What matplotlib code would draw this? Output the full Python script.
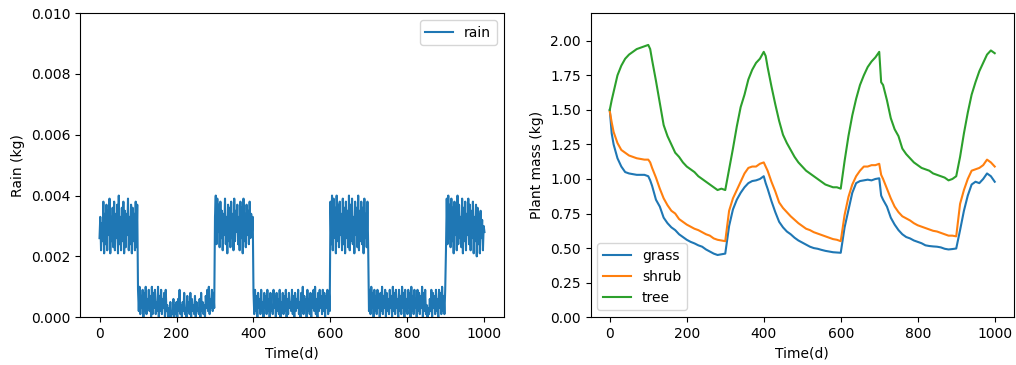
import matplotlib.pyplot as plt
import numpy as np

# rain, one value every 2 days, in units of 1e-4 kg
rain_text = """
26 33 22 31 25 38 21 34 24 37 22 35 27 39 21 33 25 36 23 38
22 34 26 37 21 40 24 33 22 36 25 38 21 35 23 34 27 39 22 33
24 37 21 36 25 34 22 38 23 37
9 2 10 1 7 3 9 0 8 2 10 1 6 3 9 2 7 0 10 1
8 3 9 1 5 2 10 0 7 2 9 1 6 3 8 0 9 2 4 0
3 0 5 0 2 1 6 0 4 1 5 0 6 2 9 1 4 0 5 2
8 1 3 0 7 2 5 1 8 0 6 2 4 1 7 0 5 2 3 1
6 0 8 2 5 1 4 0 7 3 9 2 10 1 6 3 9 2 8 3
33 40 24 39 28 37 23 38 26 35 22 34 27 39 24 33 21 37 25 36
23 38 26 34 22 39 25 35 28 37 24 33 22 38 26 36 21 39 25 34
23 37 27 35 24 38 26 34 28 33
8 1 9 2 7 0 8 3 6 1 9 2 5 0 8 3 7 1 9 2
6 0 8 2 4 1 9 3 7 0 8 2 6 1 9 0 5 3 8 1
7 2 9 0 6 1 8 3 5 2 9 1 7 0 8 2 6 3 9 1
5 0 8 2 10 1 7 3 6 0 9 2 6 1 8 0 7 3 9 2
10 1 6 0 8 2 9 3 7 1 9 2 8 0 7 3 9 1 8 2
38 24 40 22 39 26 36 21 40 25 37 23 38 27 34 22 39 24 36 21
38 26 35 23 40 22 37 25 39 24 33 21 38 27 36 23 40 22 35 25
38 24 36 21 39 26 34 23 38 22
2 9 1 10 3 8 0 9 2 7 1 9 3 6 0 8 2 10 1 7
3 9 0 8 2 6 1 9 3 7 0 10 2 8 1 9 3 6 0 9
2 7 1 10 3 8 0 9 2 6 1 9 3 8 0 10 2 7 1 9
3 6 0 9 2 8 1 7 3 10 0 8 2 9 1 4 0 3 1 6
2 9 0 8 3 7 1 9 2 6 0 9 3 8 1 10 2 7 1 9
22 39 24 40 26 37 23 39 25 36 21 38 27 35 22 40 24 37 26 33
23 39 21 36 25 38 22 34 27 39 24 37 22 35 26 38 21 33 25 37
20 36 24 34 21 35 26 32 22 30 28
"""
rain = np.array(rain_text.split(), dtype=float) * 1e-4
rain_days = np.arange(len(rain)) * 2

# plant mass
days = [0, 5, 10, 20, 30, 40, 50, 60, 70, 80, 90, 100, 105,
        110, 120, 130, 140, 150, 160, 170, 180, 190, 200,
        210, 220, 230, 240, 250, 260, 270, 280, 290, 300,
        310, 320, 330, 340, 350, 360, 370, 380, 390, 400, 405,
        410, 420, 430, 440, 450, 460, 470, 480, 490, 500,
        510, 520, 530, 540, 550, 560, 570, 580, 590, 600,
        610, 620, 630, 640, 650, 660, 670, 680, 690, 700, 705,
        710, 720, 730, 740, 750, 760, 770, 780, 790, 800,
        810, 820, 830, 840, 850, 860, 870, 880, 890, 900,
        910, 920, 930, 940, 950, 960, 970, 980, 990, 1000]

grass = [1.50, 1.33, 1.25, 1.15, 1.09, 1.05, 1.04, 1.035, 1.03, 1.03, 1.03, 1.02, 0.99,
         0.95, 0.85, 0.80, 0.72, 0.68, 0.65, 0.63, 0.60, 0.58, 0.56,
         0.545, 0.534, 0.52, 0.51, 0.49, 0.475, 0.46, 0.45, 0.455, 0.46,
         0.66, 0.78, 0.85, 0.90, 0.94, 0.97, 0.985, 0.99, 1.00, 1.02, 0.97,
         0.93, 0.84, 0.76, 0.69, 0.65, 0.62, 0.60, 0.575, 0.555, 0.54,
         0.525, 0.51, 0.50, 0.495, 0.487, 0.48, 0.475, 0.47, 0.468, 0.466,
         0.65, 0.775, 0.90, 0.97, 0.985, 0.99, 0.995, 0.99, 1.00, 1.005, 0.88,
         0.85, 0.80, 0.72, 0.67, 0.63, 0.60, 0.58, 0.57, 0.555, 0.545,
         0.535, 0.52, 0.515, 0.512, 0.51, 0.505, 0.495, 0.49, 0.493, 0.497,
         0.63, 0.77, 0.88, 0.96, 0.98, 0.97, 1.00, 1.04, 1.02, 0.98]

shrub = [1.49, 1.41, 1.34, 1.26, 1.21, 1.19, 1.17, 1.16, 1.15, 1.145, 1.14, 1.14, 1.12,
         1.08, 1.01, 0.93, 0.86, 0.81, 0.77, 0.75, 0.71, 0.69, 0.67,
         0.655, 0.64, 0.63, 0.615, 0.60, 0.59, 0.57, 0.56, 0.555, 0.55,
         0.77, 0.86, 0.92, 0.98, 1.04, 1.08, 1.09, 1.09, 1.11, 1.12, 1.09,
         1.06, 0.98, 0.91, 0.83, 0.79, 0.76, 0.73, 0.705, 0.68, 0.66,
         0.64, 0.63, 0.615, 0.605, 0.595, 0.585, 0.575, 0.565, 0.56, 0.55,
         0.74, 0.87, 0.96, 1.02, 1.06, 1.09, 1.09, 1.10, 1.10, 1.11, 1.03,
         1.00, 0.93, 0.86, 0.80, 0.76, 0.73, 0.715, 0.70, 0.68, 0.665,
         0.655, 0.645, 0.635, 0.625, 0.62, 0.61, 0.60, 0.59, 0.59, 0.585,
         0.82, 0.92, 1.00, 1.06, 1.07, 1.08, 1.10, 1.14, 1.12, 1.09]

tree = [1.50, 1.57, 1.63, 1.75, 1.82, 1.87, 1.90, 1.92, 1.94, 1.95, 1.96, 1.97, 1.94,
        1.86, 1.71, 1.55, 1.39, 1.31, 1.25, 1.19, 1.16, 1.12, 1.09,
        1.07, 1.05, 1.02, 1.00, 0.98, 0.96, 0.94, 0.92, 0.93, 0.92,
        1.07, 1.22, 1.38, 1.52, 1.61, 1.72, 1.79, 1.84, 1.87, 1.92, 1.89,
        1.81, 1.67, 1.54, 1.42, 1.32, 1.26, 1.21, 1.16, 1.12, 1.09,
        1.06, 1.04, 1.02, 1.00, 0.98, 0.96, 0.95, 0.94, 0.94, 0.93,
        1.13, 1.31, 1.46, 1.58, 1.68, 1.75, 1.81, 1.85, 1.88, 1.92, 1.70,
        1.68, 1.57, 1.44, 1.36, 1.31, 1.22, 1.18, 1.15, 1.12, 1.10,
        1.08, 1.07, 1.06, 1.04, 1.03, 1.02, 1.01, 0.99, 1.00, 1.02,
        1.16, 1.33, 1.48, 1.61, 1.70, 1.78, 1.84, 1.90, 1.93, 1.91]

fig, (ax1, ax2) = plt.subplots(1, 2, figsize=(10.16, 3.65), dpi=100)
fig.subplots_adjust(left=0.079, right=0.998, bottom=0.131, top=0.964, wspace=0.205)

ax1.plot(rain_days, rain, label="rain")
ax1.set_ylim(0, 0.01)
ax1.set_xlabel("Time(d)")
ax1.set_ylabel("Rain (kg)")
ax1.legend(loc="upper right")

ax2.plot(days, grass, label="grass")
ax2.plot(days, shrub, label="shrub")
ax2.plot(days, tree, label="tree")
ax2.set_ylim(0, 2.2)
ax2.set_xlabel("Time(d)")
ax2.set_ylabel("Plant mass (kg)")
ax2.legend(loc="lower left")

plt.savefig("out.png")
